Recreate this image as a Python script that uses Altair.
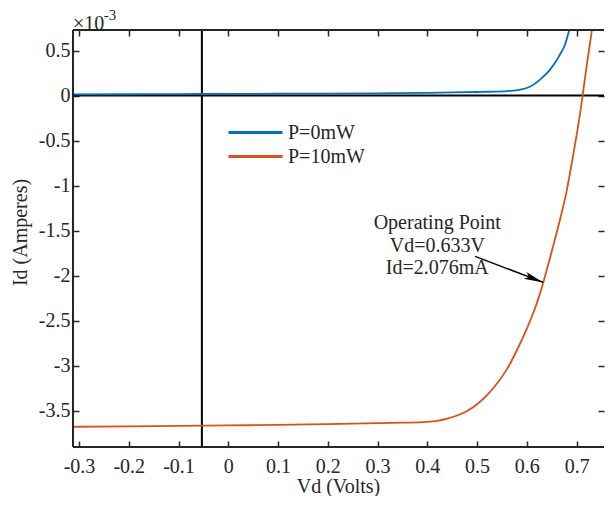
import altair as alt
import pandas as pd

# ---------------- data ----------------
series_names = ["P=0mW", "P=10mW"]
series_colors = ["#0072BD", "#D95319"]

# P=0mW curve (Vd in volts, Id in mA)
v_dark = [-0.312, -0.2, -0.1, 0.0, 0.1, 0.2, 0.3, 0.4, 0.45, 0.5, 0.526, 0.56,
          0.587, 0.607, 0.627, 0.647, 0.667, 0.677, 0.686, 0.692]
i_dark = [0.012, 0.014, 0.016, 0.018, 0.020, 0.022, 0.025, 0.030, 0.034, 0.039, 0.042, 0.050,
          0.065, 0.100, 0.180, 0.290, 0.460, 0.570, 0.740, 0.830]

# P=10mW curve
v_light = [-0.312, -0.2, -0.1, 0.0, 0.1, 0.2, 0.3, 0.35, 0.4, 0.42, 0.44, 0.46, 0.48,
           0.50, 0.52, 0.54, 0.56, 0.58, 0.60, 0.614, 0.624, 0.633, 0.651, 0.667, 0.68,
           0.69, 0.70, 0.708, 0.712, 0.72, 0.731, 0.736]
i_light = [-3.68, -3.675, -3.67, -3.665, -3.66, -3.65, -3.64, -3.635, -3.625, -3.615, -3.59, -3.555, -3.505,
           -3.43, -3.33, -3.20, -3.04, -2.83, -2.59, -2.40, -2.24, -2.076, -1.71, -1.37, -1.06,
           -0.76, -0.44, -0.16, 0.0, 0.32, 0.74, 0.92]

x_ticks = [-0.3, -0.2, -0.1, 0, 0.1, 0.2, 0.3, 0.4, 0.5, 0.6, 0.7]
y_ticks = [0.5, 0, -0.5, -1, -1.5, -2, -2.5, -3, -3.5]
x_domain = [-0.312, 0.755]
y_domain = [-3.905, 0.728]

vline_x = -0.053
hline_y = 0

op_v, op_i = 0.633, -2.076
arrow_start_v, arrow_start_i = 0.496, -1.787
annot_text = "Operating Point\nVd=0.633V\nId=2.076mA"
annot_v, annot_i = 0.420, -1.483

exp_base_text = "\u00d710"
exp_base_v, exp_base_i = -0.312, 0.80
exp_sup_text = "-3"
exp_sup_v, exp_sup_i = -0.250, 0.89

FONT = "Liberation Serif"
AX = "#262626"

# ---------------- tables ----------------
curves = pd.concat([
    pd.DataFrame({"Vd": v_dark, "Id": i_dark, "series": series_names[0], "order": range(len(v_dark))}),
    pd.DataFrame({"Vd": v_light, "Id": i_light, "series": series_names[1], "order": range(len(v_light))}),
])

xs = alt.Scale(domain=x_domain, nice=False, zero=False)
ys = alt.Scale(domain=y_domain, nice=False, zero=False)

common_axis = dict(domain=False, grid=False, tickColor=AX, tickWidth=1.5, tickSize=6,
                   offset=-6, labelFont=FONT, labelFontSize=20, labelColor=AX,
                   titleFont=FONT, titleFontSize=20, titleColor=AX, titleFontWeight="normal")

x_axis = alt.Axis(orient="bottom", values=x_ticks, labelExpr="datum.value + ''",
                  labelPadding=9, title="Vd (Volts)", titleBaseline="alphabetic",
                  titleY=51, titleX=265, **common_axis)
y_axis = alt.Axis(orient="left", values=y_ticks, labelExpr="datum.value + ''",
                  labelPadding=3, title="Id (Amperes)", titlePadding=8, titleY=202,
                  **common_axis)
x_axis_top = alt.Axis(orient="top", values=x_ticks, labels=False, title=None,
                      domain=False, grid=False, tickColor=AX, tickWidth=1.5, tickSize=6, offset=-6)
y_axis_right = alt.Axis(orient="right", values=y_ticks, labels=False, title=None,
                        domain=False, grid=False, tickColor=AX, tickWidth=1.5, tickSize=6, offset=-6)

lines = alt.Chart(curves).mark_line(clip=True, strokeWidth=1.8, interpolate="monotone").encode(
    x=alt.X("Vd:Q", scale=xs, axis=x_axis),
    y=alt.Y("Id:Q", scale=ys, axis=y_axis),
    color=alt.Color("series:N",
                    scale=alt.Scale(domain=series_names, range=series_colors),
                    legend=alt.Legend(orient="none", legendX=171, legendY=91, title=None,
                                      symbolType="M-2.7,0 H2.7", symbolSize=400,
                                      symbolStrokeWidth=3, symbolFillColor="transparent",
                                      labelFont=FONT, labelFontSize=20, labelColor=AX,
                                      labelOffset=21, rowPadding=2, padding=0)),
    order="order:Q",
)

frame_axes = alt.Chart(pd.DataFrame({"Vd": [op_v], "Id": [op_i]})).mark_point(opacity=0).encode(
    x=alt.X("Vd:Q", scale=xs, axis=x_axis_top),
    y=alt.Y("Id:Q", scale=ys, axis=y_axis_right),
)

# plot frame: left, top and bottom edges (the right edge lies outside the reference picture)
frame_left = alt.Chart(pd.DataFrame({"v": [x_domain[0]]})).mark_rule(color=AX, strokeWidth=2).encode(
    x=alt.X("v:Q", scale=xs, axis=None)
)
frame_tb = alt.Chart(pd.DataFrame({"i": y_domain})).mark_rule(color=AX, strokeWidth=2).encode(
    y=alt.Y("i:Q", scale=ys, axis=None)
)

vline = alt.Chart(pd.DataFrame({"v": [vline_x]})).mark_rule(color="black", strokeWidth=2).encode(
    x=alt.X("v:Q", scale=xs, axis=None)
)
hline = alt.Chart(pd.DataFrame({"i": [hline_y]})).mark_rule(color="black", strokeWidth=2).encode(
    y=alt.Y("i:Q", scale=ys, axis=None)
)

arrow_df = pd.DataFrame({"v1": [arrow_start_v], "i1": [arrow_start_i], "v2": [op_v], "i2": [op_i]})
arrow_line = alt.Chart(arrow_df).mark_rule(color="black", strokeWidth=1.5).encode(
    x=alt.X("v1:Q", scale=xs, axis=None), y=alt.Y("i1:Q", scale=ys, axis=None),
    x2="v2:Q", y2="i2:Q",
)
arrow_head = alt.Chart(pd.DataFrame({"v": [op_v], "i": [op_i]})).mark_point(
    shape="M0,0 L-2,-0.38 L-1.55,0 L-2,0.38 Z", filled=True, color="black",
    opacity=1, size=380, angle=21, strokeWidth=0,
).encode(x=alt.X("v:Q", scale=xs, axis=None), y=alt.Y("i:Q", scale=ys, axis=None))

annot = alt.Chart(pd.DataFrame({"v": [annot_v], "i": [annot_i], "t": [annot_text]})).mark_text(
    font=FONT, fontSize=20, color=AX, align="center", baseline="alphabetic",
    lineBreak="\n", lineHeight=22.5,
).encode(x=alt.X("v:Q", scale=xs, axis=None), y=alt.Y("i:Q", scale=ys, axis=None), text="t:N")

exp_df = pd.DataFrame({"v": [exp_base_v, exp_sup_v], "i": [exp_base_i, exp_sup_i],
                       "t": [exp_base_text, exp_sup_text], "s": [20, 15]})
exp_text = alt.Chart(exp_df).mark_text(font=FONT, color=AX, align="left", baseline="middle").encode(
    x=alt.X("v:Q", scale=xs, axis=None), y=alt.Y("i:Q", scale=ys, axis=None), text="t:N",
    size=alt.Size("s:Q", scale=None, legend=None),
)

chart = alt.layer(
    hline, vline, lines, frame_axes, frame_left, frame_tb, arrow_line, arrow_head, annot, exp_text
).resolve_axis(x="independent", y="independent").properties(
    width=531, height=417, padding={"left": 2, "top": 0, "right": 0, "bottom": 0},
    background="white",
).configure_view(strokeWidth=0)

chart.save("out.html", embed_options={"renderer": "svg", "actions": False})
